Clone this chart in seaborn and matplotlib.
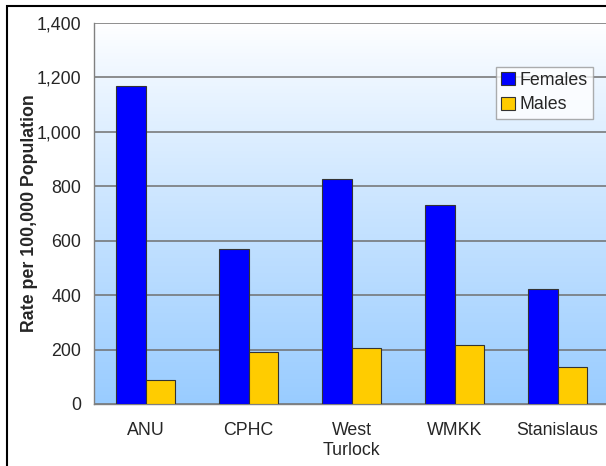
import numpy as np
import pandas as pd
import matplotlib.pyplot as plt
import matplotlib.patches as mpatches
import seaborn as sns

# data
categories = ["ANU", "CPHC", "West\nTurlock", "WMKK", "Stanislaus"]
females = [1170, 570, 828, 730, 423]
males = [88, 191, 206, 218, 136]

df = pd.DataFrame({
    "area": categories * 2,
    "sex": ["Females"] * len(categories) + ["Males"] * len(categories),
    "rate": females + males,
})

sns.set_style("white")
plt.rcParams['font.family'] = ['Liberation Sans', 'DejaVu Sans']
FS = 12.8

fig = plt.figure(figsize=(6.06, 4.66), dpi=100)
ax = fig.add_axes([94 / 606, 62 / 466, 515 / 606, 381 / 466])

# gradient background (white at top -> light blue at bottom)
grad = np.linspace(0, 1, 256).reshape(-1, 1)
top = np.array([1.0, 1.0, 1.0])
bot = np.array([0.6, 0.8, 1.0])
img = top + (bot - top) * grad[..., None] ** 0.9
img = img.reshape(256, 1, 3)
ax.imshow(img, extent=[0, 1, 0, 1], transform=ax.transAxes, aspect="auto", zorder=0)

sns.barplot(data=df, x="area", y="rate", hue="sex",
            palette={"Females": "#0000FF", "Males": "#FFCC00"},
            width=0.57, gap=0, edgecolor="#333333", linewidth=0.8,
            ax=ax, zorder=3, saturation=1)

ax.set_xlim(-0.5, 4.5)
ax.set_ylim(0, 1400)
ax.set_yticks(range(0, 1401, 200))
ax.set_yticklabels([f"{v:,}" for v in range(0, 1401, 200)], fontsize=FS)
ax.yaxis.grid(True, color="#707070", linewidth=1.1, zorder=1)
for gl in ax.get_ygridlines():
    gl.set_zorder(1)

ax.set_xticks(range(len(categories)))
ax.set_xticklabels(categories, fontsize=FS)
ax.tick_params(axis="x", length=0, pad=13)
ax.set_xticks(np.arange(-0.5, 4.6, 1), minor=True)
ax.tick_params(axis="x", which="minor", length=5, color="#808080", direction="out")
ax.tick_params(axis="y", length=6, color="#808080", direction="out", pad=3)

for s in ["top", "right"]:
    ax.spines[s].set_visible(False)
for s in ["left", "bottom"]:
    ax.spines[s].set_color("#808080")
    ax.spines[s].set_linewidth(1)

ax.set_xlabel("")
ax.set_ylabel("Rate per 100,000 Population", fontsize=FS, fontweight="bold", labelpad=-1)

leg = ax.legend(loc="upper right", bbox_to_anchor=(0.968, 0.885), fontsize=FS,
                frameon=True, fancybox=False, handlelength=0.75, handleheight=0.75,
                handletextpad=0.25, borderpad=0.3, labelspacing=0.4, borderaxespad=0)
leg.get_frame().set_edgecolor("#999999")
leg.get_frame().set_linewidth(1)
leg.set_zorder(5)

# figure border
fig.patches.append(mpatches.Rectangle((7 / 606, -0.1), 1.2, (466 - 6) / 466 + 0.1,
                                      transform=fig.transFigure, fill=False,
                                      edgecolor="black", linewidth=1.5))

fig.savefig("out.png", dpi=100)
